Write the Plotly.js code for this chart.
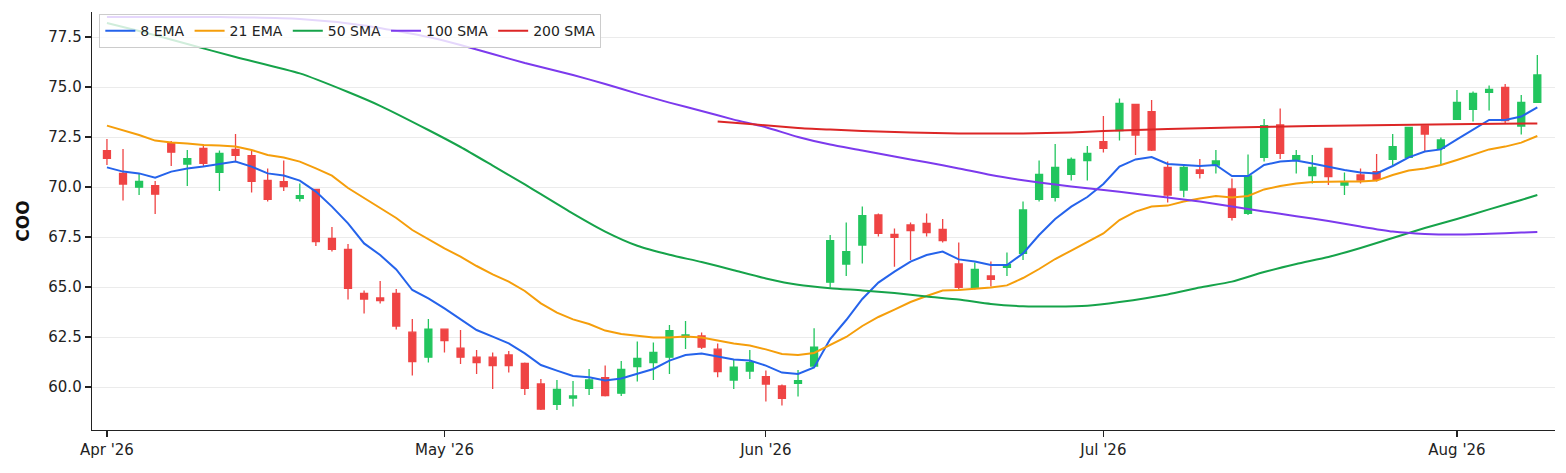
<!DOCTYPE html>
<html>
<head>
<meta charset="utf-8">
<script src="https://cdn.plot.ly/plotly-3.0.1.min.js"></script>
<style>html,body{margin:0;padding:0;background:#fff}#chart{width:1566px;height:473px}</style>
</head>
<body>
<div id="chart"></div>
<script>
const dates = [
 '2026-04-01','2026-04-02','2026-04-06','2026-04-07','2026-04-08','2026-04-09','2026-04-10','2026-04-13','2026-04-14','2026-04-15',
 '2026-04-16','2026-04-17','2026-04-20','2026-04-21','2026-04-22','2026-04-23','2026-04-24','2026-04-27','2026-04-28','2026-04-29',
 '2026-04-30','2026-05-01','2026-05-04','2026-05-05','2026-05-06','2026-05-07','2026-05-08','2026-05-11','2026-05-12','2026-05-13',
 '2026-05-14','2026-05-15','2026-05-18','2026-05-19','2026-05-20','2026-05-21','2026-05-22','2026-05-26','2026-05-27','2026-05-28',
 '2026-05-29','2026-06-01','2026-06-02','2026-06-03','2026-06-04','2026-06-05','2026-06-08','2026-06-09','2026-06-10','2026-06-11',
 '2026-06-12','2026-06-15','2026-06-16','2026-06-17','2026-06-18','2026-06-22','2026-06-23','2026-06-24','2026-06-25','2026-06-26',
 '2026-06-29','2026-06-30','2026-07-01','2026-07-02','2026-07-06','2026-07-07','2026-07-08','2026-07-09','2026-07-10','2026-07-13',
 '2026-07-14','2026-07-15','2026-07-16','2026-07-17','2026-07-20','2026-07-21','2026-07-22','2026-07-23','2026-07-24','2026-07-27',
 '2026-07-28','2026-07-29','2026-07-30','2026-07-31','2026-08-03','2026-08-04','2026-08-05','2026-08-06','2026-08-07','2026-08-10'
];
const openP = [
 71.82,70.68,69.99,70.07,72.18,71.15,71.93,70.73,71.88,71.57,
 70.33,70.27,69.43,69.88,67.43,66.88,64.68,64.45,64.68,62.74,
 61.49,62.89,61.94,61.49,61.49,61.60,61.18,60.15,59.13,59.45,
 59.93,60.47,59.69,61.02,61.22,61.49,62.49,62.55,61.89,60.35,
 60.80,60.52,60.05,60.18,61.05,65.24,66.15,67.10,68.60,67.63,
 68.10,68.18,67.88,66.15,64.98,65.55,65.98,66.68,69.38,69.48,
 70.63,71.32,72.27,72.82,74.13,73.77,70.98,69.85,70.85,71.10,
 69.90,68.68,71.48,73.10,71.38,70.57,71.93,70.10,70.60,70.77,
 71.38,71.48,73.05,71.93,73.38,73.88,74.73,74.98,73.05,74.23
];
const highP = [
 72.40,71.90,70.65,70.30,72.30,71.85,72.14,71.82,72.65,71.82,
 70.93,71.32,70.18,69.90,68.00,67.15,64.82,65.30,64.90,63.40,
 63.40,62.92,62.85,61.85,61.72,61.80,61.22,60.40,60.35,60.30,
 60.90,61.07,61.30,62.27,62.22,63.10,63.30,62.72,62.18,61.35,
 61.85,60.82,60.13,60.85,62.94,67.60,68.22,69.02,68.68,67.93,
 68.23,68.68,68.40,67.22,66.23,66.27,66.72,69.27,71.32,72.15,
 71.48,72.05,73.55,74.43,74.15,74.35,71.27,71.15,71.40,71.85,
 70.43,71.63,73.40,73.93,71.85,71.60,71.95,70.72,70.93,71.65,
 72.65,73.00,73.07,72.48,74.85,74.77,75.07,75.15,74.60,76.60
];
const lowP = [
 71.10,69.32,69.60,68.65,71.05,70.05,71.05,69.80,71.27,69.72,
 69.27,69.80,69.27,67.05,66.77,64.38,63.68,64.18,62.88,60.57,
 61.22,61.72,61.15,60.65,59.90,60.73,59.60,58.85,58.85,59.02,
 59.60,59.52,59.55,60.27,60.35,60.65,61.90,61.90,60.49,59.90,
 60.40,59.27,59.07,59.52,61.00,64.97,65.55,66.18,67.52,66.01,
 66.35,67.52,67.23,64.88,64.88,65.02,65.55,66.35,69.27,69.27,
 70.32,70.32,71.72,72.32,71.60,71.80,69.22,69.49,70.43,70.68,
 68.32,68.60,71.27,71.40,70.68,70.18,70.10,69.60,70.18,70.27,
 71.10,71.45,71.77,71.10,73.35,73.27,73.82,73.18,72.63,74.20
];
const closeP = [
 71.43,70.15,70.28,69.64,71.74,71.42,71.18,71.68,71.58,70.28,
 69.38,70.02,69.57,67.27,66.88,64.93,64.40,64.32,63.05,61.27,
 62.89,62.32,61.49,61.22,61.07,61.07,59.93,58.90,59.88,59.55,
 60.35,59.57,60.88,61.43,61.73,62.82,62.60,61.99,60.77,60.99,
 61.22,60.15,59.43,60.32,61.99,67.32,66.77,68.57,67.68,67.48,
 67.82,67.72,67.32,64.98,65.88,65.38,66.12,68.85,70.63,70.98,
 71.38,71.68,71.93,74.18,72.60,71.85,69.60,70.98,70.68,71.30,
 68.48,70.55,73.07,71.68,71.57,70.98,70.52,70.22,70.35,70.38,
 72.02,72.98,72.65,72.35,74.23,74.68,74.88,73.32,74.23,75.60
];
const ema8 = [
 70.98,70.77,70.68,70.47,70.77,70.93,71.02,71.15,71.27,71.02,
 70.68,70.57,70.32,69.77,69.02,68.18,67.18,66.60,65.88,64.85,
 64.43,63.93,63.38,62.85,62.52,62.18,61.68,61.10,60.82,60.55,
 60.49,60.32,60.43,60.65,60.90,61.32,61.60,61.68,61.52,61.38,
 61.32,61.07,60.72,60.65,60.98,62.40,63.35,64.40,65.22,65.77,
 66.27,66.60,66.77,66.38,66.27,66.10,66.10,66.68,67.60,68.40,
 69.02,69.50,70.15,71.02,71.38,71.50,71.15,71.10,71.05,71.10,
 70.55,70.55,71.10,71.27,71.32,71.18,71.02,70.85,70.73,70.68,
 71.05,71.48,71.77,71.88,72.38,72.88,73.35,73.35,73.52,73.98
];
const ema21 = [
 73.07,72.85,72.60,72.32,72.23,72.18,72.10,72.07,72.02,71.85,
 71.60,71.47,71.27,70.93,70.57,69.95,69.45,68.95,68.45,67.85,
 67.38,66.93,66.52,66.05,65.63,65.27,64.80,64.18,63.72,63.38,
 63.15,62.82,62.65,62.55,62.48,62.48,62.52,62.48,62.32,62.18,
 62.07,61.88,61.65,61.60,61.70,62.10,62.50,63.05,63.50,63.87,
 64.25,64.55,64.82,64.85,64.92,64.97,65.08,65.45,65.90,66.40,
 66.82,67.25,67.68,68.35,68.77,69.02,69.07,69.27,69.43,69.55,
 69.48,69.55,69.88,70.05,70.18,70.25,70.27,70.27,70.27,70.32,
 70.60,70.82,70.93,71.10,71.35,71.63,71.88,72.02,72.22,72.55
];
const sma50Dates = [
 '2026-04-01','2026-04-06','2026-04-09','2026-04-14','2026-04-20','2026-04-23','2026-04-27','2026-04-30','2026-05-04','2026-05-06',
 '2026-05-08','2026-05-11','2026-05-13','2026-05-15','2026-05-19','2026-05-21','2026-05-26','2026-05-28','2026-06-01','2026-06-03',
 '2026-06-05','2026-06-09','2026-06-11','2026-06-15','2026-06-17','2026-06-22','2026-06-24','2026-06-26','2026-06-30','2026-07-02',
 '2026-07-08','2026-07-10','2026-07-14','2026-07-16','2026-07-20','2026-07-22','2026-07-24','2026-07-28','2026-07-30','2026-08-03',
 '2026-08-05','2026-08-07','2026-08-10'
];
const sma50 = [
 78.20,77.80,77.15,76.50,75.68,74.75,74.06,72.85,72.00,71.07,
 70.13,69.64,68.67,67.77,67.06,66.61,66.25,65.84,65.43,65.11,
 64.94,64.83,64.70,64.52,64.37,64.15,64.04,64.02,64.06,64.25,
 64.63,64.97,65.27,65.75,66.15,66.50,66.95,67.45,67.95,68.40,
 68.88,69.35,69.60
];
const sma100Dates = [
 '2026-04-01','2026-04-07','2026-04-13','2026-04-20','2026-04-24','2026-04-30','2026-05-04','2026-05-06','2026-05-08','2026-05-13',
 '2026-05-15','2026-05-19','2026-05-21','2026-05-26','2026-05-28','2026-06-01','2026-06-03','2026-06-05','2026-06-09','2026-06-11',
 '2026-06-15','2026-06-17','2026-06-22','2026-06-24','2026-06-26','2026-06-30','2026-07-02','2026-07-08','2026-07-10','2026-07-14',
 '2026-07-16','2026-07-20','2026-07-22','2026-07-24','2026-07-28','2026-07-30','2026-08-03','2026-08-05','2026-08-07','2026-08-10'
];
const sma100 = [
 78.50,78.50,78.50,78.40,78.08,77.50,77.10,76.65,76.20,75.60,
 75.15,74.67,74.22,73.80,73.37,72.99,72.50,72.12,71.83,71.52,
 71.24,70.93,70.60,70.34,70.12,69.94,69.76,69.47,69.27,69.02,
 68.78,68.54,68.30,68.02,67.77,67.65,67.62,67.66,67.72,67.75
];
const sma200Dates = [
 '2026-05-27','2026-05-29','2026-06-03','2026-06-05','2026-06-09','2026-06-12','2026-06-17','2026-06-24','2026-06-29','2026-07-01',
 '2026-07-08','2026-07-14','2026-07-21','2026-07-28','2026-08-04','2026-08-10'
];
const sma200 = [
 73.27,73.15,72.95,72.87,72.80,72.72,72.68,72.68,72.73,72.80,
 72.90,72.98,73.05,73.10,73.15,73.18
];
const tickDates = ['2026-04-01','2026-05-01','2026-06-01','2026-07-01','2026-08-03'];
const tickLabels = ["Apr '26","May '26","Jun '26","Jul '26","Aug '26"];
const yTicks = [60, 62.5, 65, 67.5, 70, 72.5, 75, 77.5];

const traces = [
  {type:'candlestick', x:dates, open:openP, high:highP, low:lowP, close:closeP,
   increasing:{line:{color:'#22c55e', width:1.3}, fillcolor:'#22c55e'},
   decreasing:{line:{color:'#ef4444', width:1.3}, fillcolor:'#ef4444'},
   whiskerwidth:0, showlegend:false, hoverinfo:'skip', name:'COO'},
  {type:'scatter', mode:'lines', x:dates, y:ema8, name:'8 EMA', line:{color:'#2563eb', width:2}},
  {type:'scatter', mode:'lines', x:dates, y:ema21, name:'21 EMA', line:{color:'#f59e0b', width:2}},
  {type:'scatter', mode:'lines', x:sma50Dates, y:sma50, name:'50 SMA', line:{color:'#16a34a', width:2, shape:'spline', smoothing:0.6}},
  {type:'scatter', mode:'lines', x:sma100Dates, y:sma100, name:'100 SMA', line:{color:'#7c3aed', width:2, shape:'spline', smoothing:0.6}},
  {type:'scatter', mode:'lines', x:sma200Dates, y:sma200, name:'200 SMA', line:{color:'#dc2626', width:2, shape:'spline', smoothing:0.6}}
];

const layout = {
  width:1566, height:473,
  margin:{l:92, r:11, t:12, b:43, pad:0},
  paper_bgcolor:'#ffffff', plot_bgcolor:'#ffffff',
  font:{family:'DejaVu Sans, sans-serif', size:15, color:'#222222'},
  showlegend:true,
  hovermode:false,
  boxgap:0.38,
  legend:{orientation:'h', x:0.005, y:0.995, xanchor:'left', yanchor:'top',
          bgcolor:'rgba(255,255,255,0.8)', bordercolor:'#cccccc', borderwidth:1,
          font:{size:14, color:'#222222'}, itemwidth:30, tracegroupgap:0},
  xaxis:{type:'category', categoryorder:'array', categoryarray:dates,
         range:[-0.93, 90.1], tickmode:'array', tickvals:tickDates, ticktext:tickLabels,
         ticks:'outside', ticklen:6, tickwidth:1.2, tickcolor:'#222222',
         showline:true, linecolor:'#222222', linewidth:1.3, showgrid:false, zeroline:false,
         rangeslider:{visible:false}, fixedrange:true},
  yaxis:{range:[57.85, 78.75], tickmode:'array', tickvals:yTicks, tickformat:'.1f',
         ticks:'outside', ticklen:6, tickwidth:1.2, tickcolor:'#222222',
         showline:true, linecolor:'#222222', linewidth:1.3,
         showgrid:true, gridcolor:'#ebebeb', gridwidth:1, zeroline:false,
         title:{text:'<b>COO</b>', font:{size:17, color:'#111111'}, standoff:14}, fixedrange:true}
};

Plotly.newPlot('chart', traces, layout, {displayModeBar:false, staticPlot:true});
</script>
</body>
</html>
